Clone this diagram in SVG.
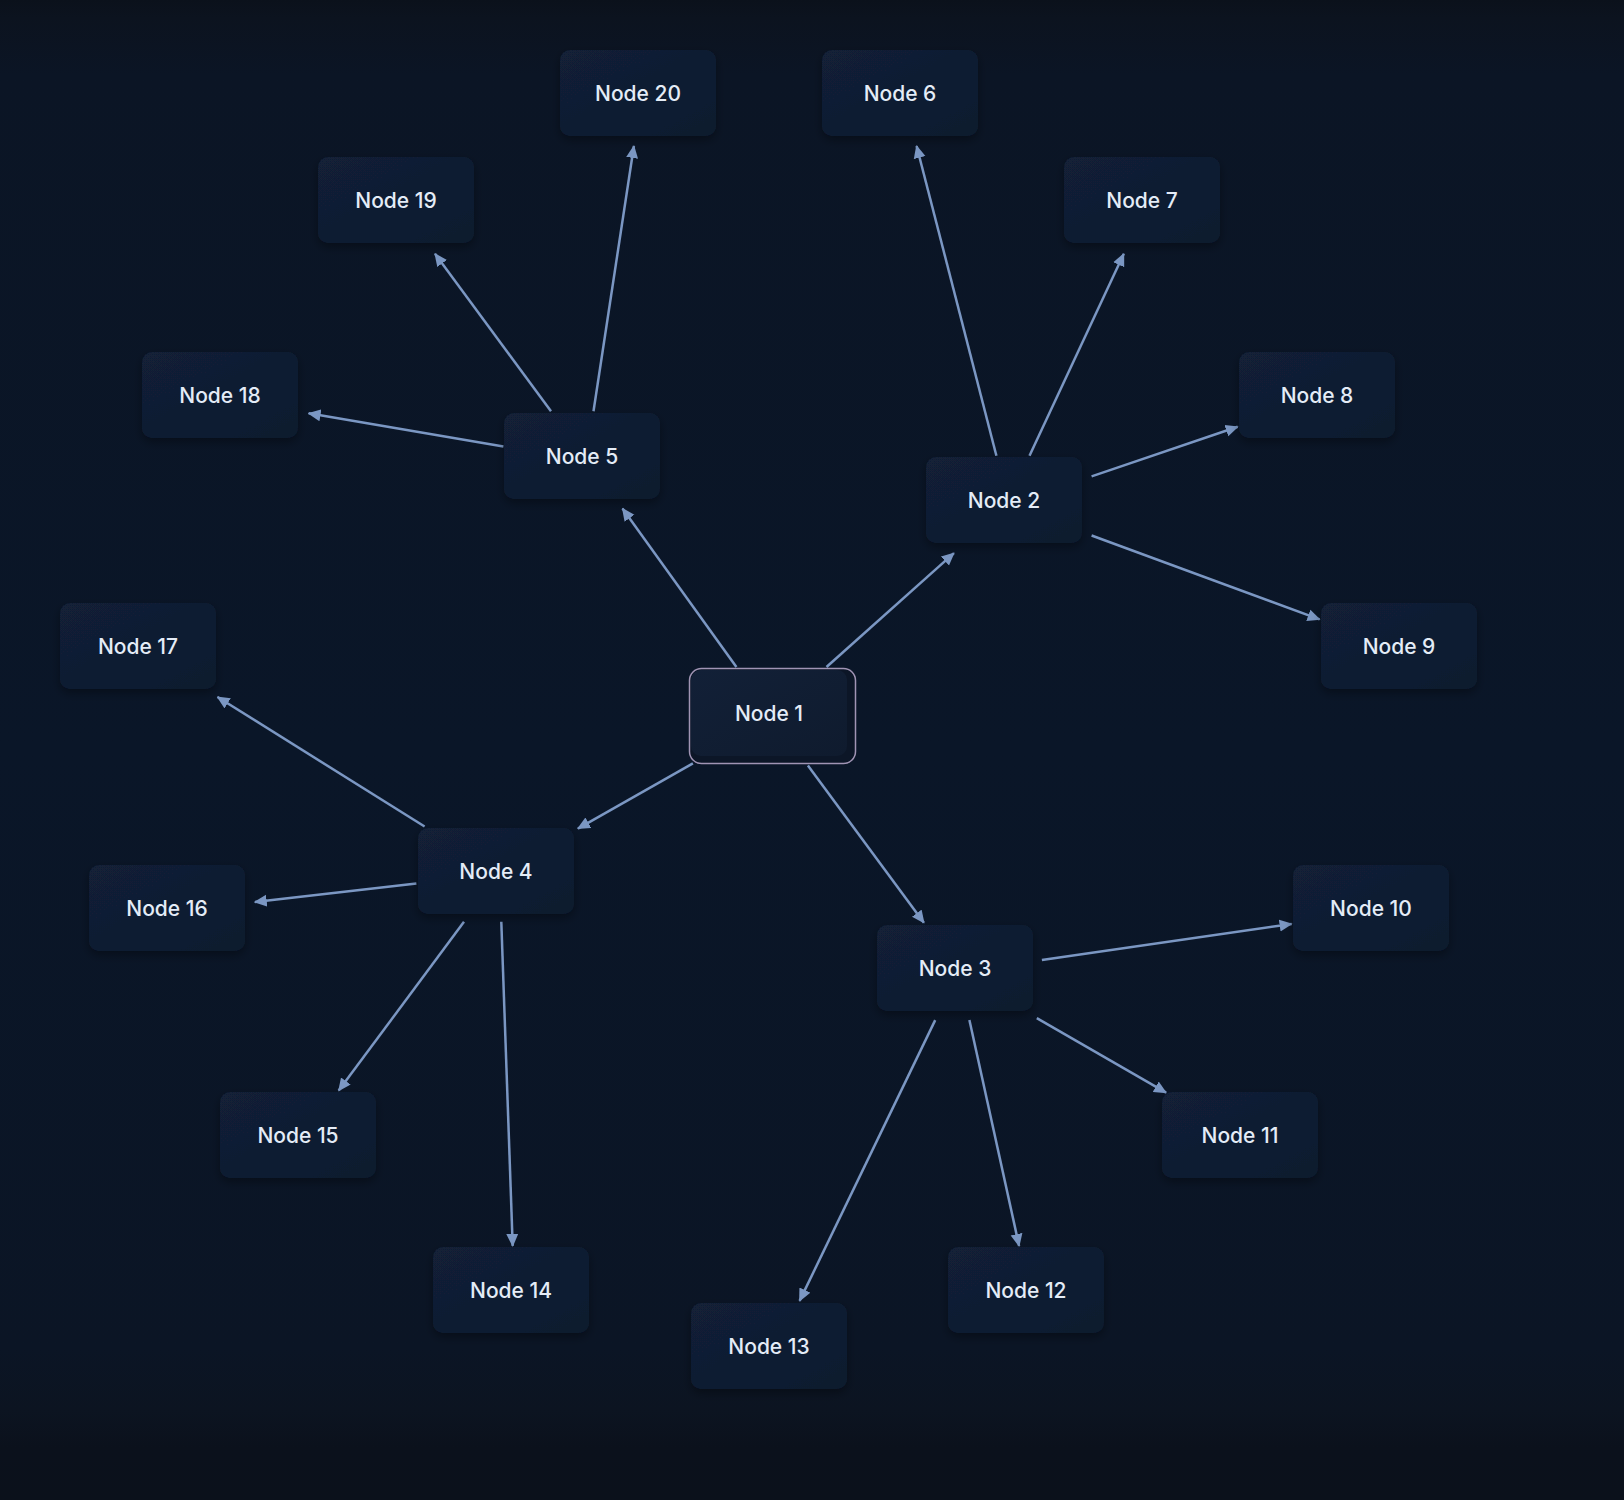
<svg xmlns="http://www.w3.org/2000/svg" width="1624" height="1500" viewBox="0 0 1624 1500">
  <defs>
    <linearGradient id="bg" x1="0" y1="0" x2="0" y2="1">
      <stop offset="0" stop-color="#0b111b"/>
      <stop offset="0.012" stop-color="#0c131f"/>
      <stop offset="0.05" stop-color="#0b1525"/>
      <stop offset="0.5" stop-color="#0a1628"/>
      <stop offset="0.9" stop-color="#0b1525"/>
      <stop offset="0.94" stop-color="#0c1421"/>
      <stop offset="0.965" stop-color="#0b111c"/>
      <stop offset="1" stop-color="#0b111b"/>
    </linearGradient>
    <linearGradient id="nodeFill" x1="0" y1="0" x2="1" y2="1">
      <stop offset="0" stop-color="#122037"/>
      <stop offset="1" stop-color="#0f1b2e"/>
    </linearGradient>
    <filter id="shadow" x="-20%" y="-20%" width="140%" height="150%">
      <feDropShadow dx="0" dy="4" stdDeviation="5" flood-color="#000000" flood-opacity="0.35"/>
    </filter>
    <marker id="arrow" viewBox="0 0 13 13" refX="12" refY="6.5" markerWidth="13" markerHeight="13" markerUnits="userSpaceOnUse" orient="auto">
      <path d="M0,0.5 L13,6.5 L0,12.5 z" fill="#7b97c3"/>
    </marker>
    <style>
      .edge { stroke: #7b97c3; stroke-width: 2.5; fill: none; marker-end: url(#arrow); }
      .node rect.box { fill: url(#nodeFill); filter: url(#shadow); }
      .node text { font-family: Inter, "Noto Sans", "Liberation Sans", sans-serif; font-size: 21px; font-weight: 500; fill: #e4ecf7; text-anchor: middle; dominant-baseline: central; }
      .sel { fill: #0c1627; stroke: #a094b4; stroke-width: 1.5; }
    </style>
  </defs>

  <rect x="0" y="0" width="1624" height="1500" fill="url(#bg)"/>

  <g id="connectors">
    <line class="edge" x1="736.4" y1="667" x2="622.5" y2="508.5"/>
    <line class="edge" x1="826.5" y1="667" x2="953.9" y2="553.1"/>
    <line class="edge" x1="692.9" y1="763.3" x2="577.9" y2="828.6"/>
    <line class="edge" x1="807.9" y1="765.4" x2="923.9" y2="922.8"/>
    <line class="edge" x1="503.4" y1="446.4" x2="308.6" y2="413.3"/>
    <line class="edge" x1="551" y1="411.2" x2="435" y2="253.8"/>
    <line class="edge" x1="593.5" y1="411.2" x2="633.9" y2="146"/>
    <line class="edge" x1="996.4" y1="455.7" x2="916.6" y2="146"/>
    <line class="edge" x1="1029.5" y1="455.7" x2="1123.8" y2="253.8"/>
    <line class="edge" x1="1091.6" y1="476.4" x2="1237.7" y2="426.7"/>
    <line class="edge" x1="1091.6" y1="535.5" x2="1319.6" y2="619.4"/>
    <line class="edge" x1="424.6" y1="826.5" x2="217.5" y2="697"/>
    <line class="edge" x1="416.4" y1="883.5" x2="254.8" y2="902.1"/>
    <line class="edge" x1="464" y1="921.8" x2="338.7" y2="1090.6"/>
    <line class="edge" x1="501.3" y1="921.8" x2="512.7" y2="1245.9"/>
    <line class="edge" x1="1041.9" y1="960.1" x2="1291.6" y2="923.9"/>
    <line class="edge" x1="1036.8" y1="1018.1" x2="1166.1" y2="1092.7"/>
    <line class="edge" x1="969.4" y1="1020.1" x2="1019.1" y2="1245.9"/>
    <line class="edge" x1="935.2" y1="1020.1" x2="799.6" y2="1300.9"/>
  </g>

  <g id="node1" class="node">
    <rect class="sel" x="689.5" y="668.5" width="166" height="95" rx="12"/>
    <rect x="691" y="670" width="156" height="86" rx="10" fill="url(#nodeFill)"/>
    <text x="769" y="713">Node 1</text>
  </g>
  <g id="node2" class="node"><rect class="box" x="926" y="457" width="156" height="86" rx="10"/><text x="1004" y="500">Node 2</text></g>
  <g id="node3" class="node"><rect class="box" x="877" y="925" width="156" height="86" rx="10"/><text x="955" y="968">Node 3</text></g>
  <g id="node4" class="node"><rect class="box" x="418" y="828" width="156" height="86" rx="10"/><text x="496" y="871">Node 4</text></g>
  <g id="node5" class="node"><rect class="box" x="504" y="413" width="156" height="86" rx="10"/><text x="582" y="456">Node 5</text></g>
  <g id="node6" class="node"><rect class="box" x="822" y="50" width="156" height="86" rx="10"/><text x="900" y="93">Node 6</text></g>
  <g id="node7" class="node"><rect class="box" x="1064" y="157" width="156" height="86" rx="10"/><text x="1142" y="200">Node 7</text></g>
  <g id="node8" class="node"><rect class="box" x="1239" y="352" width="156" height="86" rx="10"/><text x="1317" y="395">Node 8</text></g>
  <g id="node9" class="node"><rect class="box" x="1321" y="603" width="156" height="86" rx="10"/><text x="1399" y="646">Node 9</text></g>
  <g id="node10" class="node"><rect class="box" x="1293" y="865" width="156" height="86" rx="10"/><text x="1371" y="908">Node 10</text></g>
  <g id="node11" class="node"><rect class="box" x="1162" y="1092" width="156" height="86" rx="10"/><text x="1240" y="1135">Node 11</text></g>
  <g id="node12" class="node"><rect class="box" x="948" y="1247" width="156" height="86" rx="10"/><text x="1026" y="1290">Node 12</text></g>
  <g id="node13" class="node"><rect class="box" x="691" y="1303" width="156" height="86" rx="10"/><text x="769" y="1346">Node 13</text></g>
  <g id="node14" class="node"><rect class="box" x="433" y="1247" width="156" height="86" rx="10"/><text x="511" y="1290">Node 14</text></g>
  <g id="node15" class="node"><rect class="box" x="220" y="1092" width="156" height="86" rx="10"/><text x="298" y="1135">Node 15</text></g>
  <g id="node16" class="node"><rect class="box" x="89" y="865" width="156" height="86" rx="10"/><text x="167" y="908">Node 16</text></g>
  <g id="node17" class="node"><rect class="box" x="60" y="603" width="156" height="86" rx="10"/><text x="138" y="646">Node 17</text></g>
  <g id="node18" class="node"><rect class="box" x="142" y="352" width="156" height="86" rx="10"/><text x="220" y="395">Node 18</text></g>
  <g id="node19" class="node"><rect class="box" x="318" y="157" width="156" height="86" rx="10"/><text x="396" y="200">Node 19</text></g>
  <g id="node20" class="node"><rect class="box" x="560" y="50" width="156" height="86" rx="10"/><text x="638" y="93">Node 20</text></g>
</svg>
